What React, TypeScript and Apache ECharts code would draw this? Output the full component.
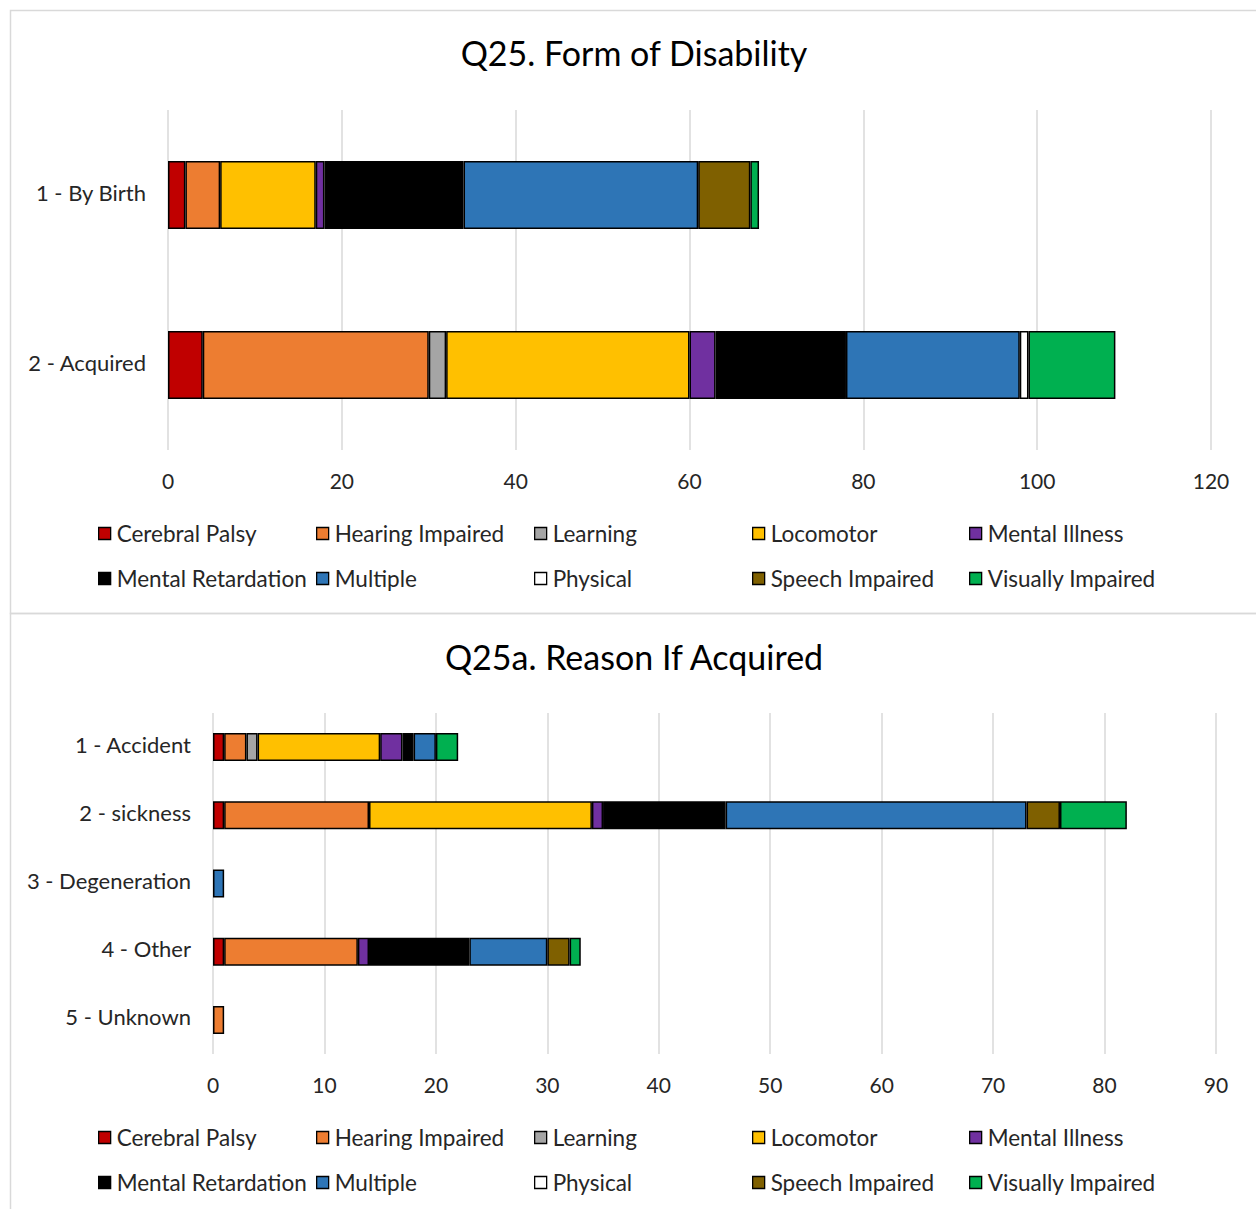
import React, { useEffect, useRef } from "react";
import * as echarts from "echarts";

const seriesNames = [
  "Cerebral Palsy",
  "Hearing Impaired",
  "Learning",
  "Locomotor",
  "Mental Illness",
  "Mental Retardation",
  "Multiple",
  "Physical",
  "Speech Impaired",
  "Visually Impaired",
];
const seriesColors = [
  "#C00000",
  "#ED7D31",
  "#A5A5A5",
  "#FFC000",
  "#7030A0",
  "#000000",
  "#2E75B6",
  "#FFFFFF",
  "#7F6000",
  "#00B050",
];

const title1 = "Q25. Form of Disability";
const categories1 = ["1 - By Birth", "2 - Acquired"];
// per series: [By Birth, Acquired]
const cerebralPalsy1 = [2, 4];
const hearingImpaired1 = [4, 26];
const learning1 = [0, 2];
const locomotor1 = [11, 28];
const mentalIllness1 = [1, 3];
const mentalRetardation1 = [16, 15];
const multiple1 = [27, 20];
const physical1 = [0, 1];
const speechImpaired1 = [6, 0];
const visuallyImpaired1 = [1, 10];
const xTicks1 = { min: 0, max: 120, interval: 20 };

const title2 = "Q25a. Reason If Acquired";
const categories2 = ["1 - Accident", "2 - sickness", "3 - Degeneration", "4 - Other", "5 - Unknown"];
const cerebralPalsy2 = [1, 1, 0, 1, 0];
const hearingImpaired2 = [2, 13, 0, 12, 1];
const learning2 = [1, 0, 0, 0, 0];
const locomotor2 = [11, 20, 0, 0, 0];
const mentalIllness2 = [2, 1, 0, 1, 0];
const mentalRetardation2 = [1, 11, 0, 9, 0];
const multiple2 = [2, 27, 1, 7, 0];
const physical2 = [0, 0, 0, 0, 0];
const speechImpaired2 = [0, 3, 0, 2, 0];
const visuallyImpaired2 = [2, 6, 0, 1, 0];
const xTicks2 = { min: 0, max: 90, interval: 10 };

const data1 = [
  cerebralPalsy1, hearingImpaired1, learning1, locomotor1, mentalIllness1,
  mentalRetardation1, multiple1, physical1, speechImpaired1, visuallyImpaired1,
];
const data2 = [
  cerebralPalsy2, hearingImpaired2, learning2, locomotor2, mentalIllness2,
  mentalRetardation2, multiple2, physical2, speechImpaired2, visuallyImpaired2,
];

const FONT = "Lato, 'Open Sans', sans-serif";
const TXT = "#262626";

export default function App() {
  const ref = useRef<HTMLDivElement>(null);
  useEffect(() => {
    document.body.style.margin = "0";
    if (!ref.current) return;
    const chart = echarts.init(ref.current, null, { renderer: "svg" });

    const panels = [
      { top: 10, titleY: 55, gridTop: 110, gridH: 340, left: 168, right: 1211, barW: 68, legendRows: [535, 580] },
      { top: 613, titleY: 659, gridTop: 713, gridH: 341, left: 213, right: 1216, barW: 28, legendRows: [1139, 1184] },
    ];
    const colX = [98, 316, 534, 752, 969];

    const legends: any[] = [];
    panels.forEach((p) => {
      seriesNames.forEach((name, i) => {
        const row = Math.floor(i / 5);
        const col = i % 5;
        legends.push({
          left: colX[col],
          top: p.legendRows[row] - 13,
          padding: 0,
          icon: "rect",
          itemWidth: 12,
          itemHeight: 12,
          selectedMode: false,
          data: [name],
          textStyle: { fontFamily: FONT, fontSize: 22.5, color: TXT, padding: [0, 0, 0, 1] },
          itemStyle: { borderColor: "#000", borderWidth: 1.3 },
        });
      });
    });

    const mk = (arr: number[]) => arr.map((v) => (v === 0 ? "-" : v));

    const series: any[] = [];
    [data1, data2].forEach((dset, gi) => {
      dset.forEach((arr, i) => {
        series.push({
          type: "bar",
          name: seriesNames[i],
          stack: "s" + gi,
          xAxisIndex: gi,
          yAxisIndex: gi,
          barWidth: panels[gi].barW,
          data: mk(arr),
          itemStyle: { color: seriesColors[i], borderColor: "#000", borderWidth: 1.5 },
        });
      });
    });

    const xAxis = [xTicks1, xTicks2].map((t, gi) => ({
      type: "value",
      gridIndex: gi,
      min: t.min,
      max: t.max,
      interval: t.interval,
      axisLine: { show: false },
      axisTick: { show: false },
      splitLine: { lineStyle: { color: "#D9D9D9", width: 1.5 } },
      axisLabel: { fontFamily: FONT, fontSize: 21, color: TXT, margin: 20 },
    }));
    const yAxis = [categories1, categories2].map((c, gi) => ({
      type: "category",
      gridIndex: gi,
      inverse: true,
      data: c,
      axisLine: { show: false },
      axisTick: { show: false },
      axisLabel: {
        fontFamily: FONT,
        fontSize: 22,
        color: TXT,
        margin: 22,
        formatter: "{a|{value}}",
        rich: { a: { fontFamily: FONT, fontSize: 22, color: TXT, padding: [0, 0, 6, 0] } },
      },
    }));

    chart.setOption({
      animation: false,
      backgroundColor: "#fff",
      title: [title1, title2].map((t, gi) => ({
        text: t,
        left: 634,
        textAlign: "center",
        top: panels[gi].titleY - 20,
        padding: 0,
        textStyle: { fontFamily: FONT, fontSize: 34, fontWeight: "normal", color: "#000" },
      })),
      grid: panels.map((p) => ({
        left: p.left,
        width: p.right - p.left,
        top: p.gridTop,
        height: p.gridH,
        containLabel: false,
      })),
      xAxis,
      yAxis,
      legend: legends,
      series,
      graphic: [
        { type: "rect", silent: true, shape: { x: 10.5, y: 10.5, width: 1260, height: 603 }, style: { fill: "none", stroke: "#D9D9D9", lineWidth: 1.5 } },
        { type: "rect", silent: true, shape: { x: 10.5, y: 613.5, width: 1260, height: 620 }, style: { fill: "none", stroke: "#D9D9D9", lineWidth: 1.5 } },
      ],
    });
    return () => chart.dispose();
  }, []);
  return <div ref={ref} style={{ width: 1256, height: 1209 }} />;
}
